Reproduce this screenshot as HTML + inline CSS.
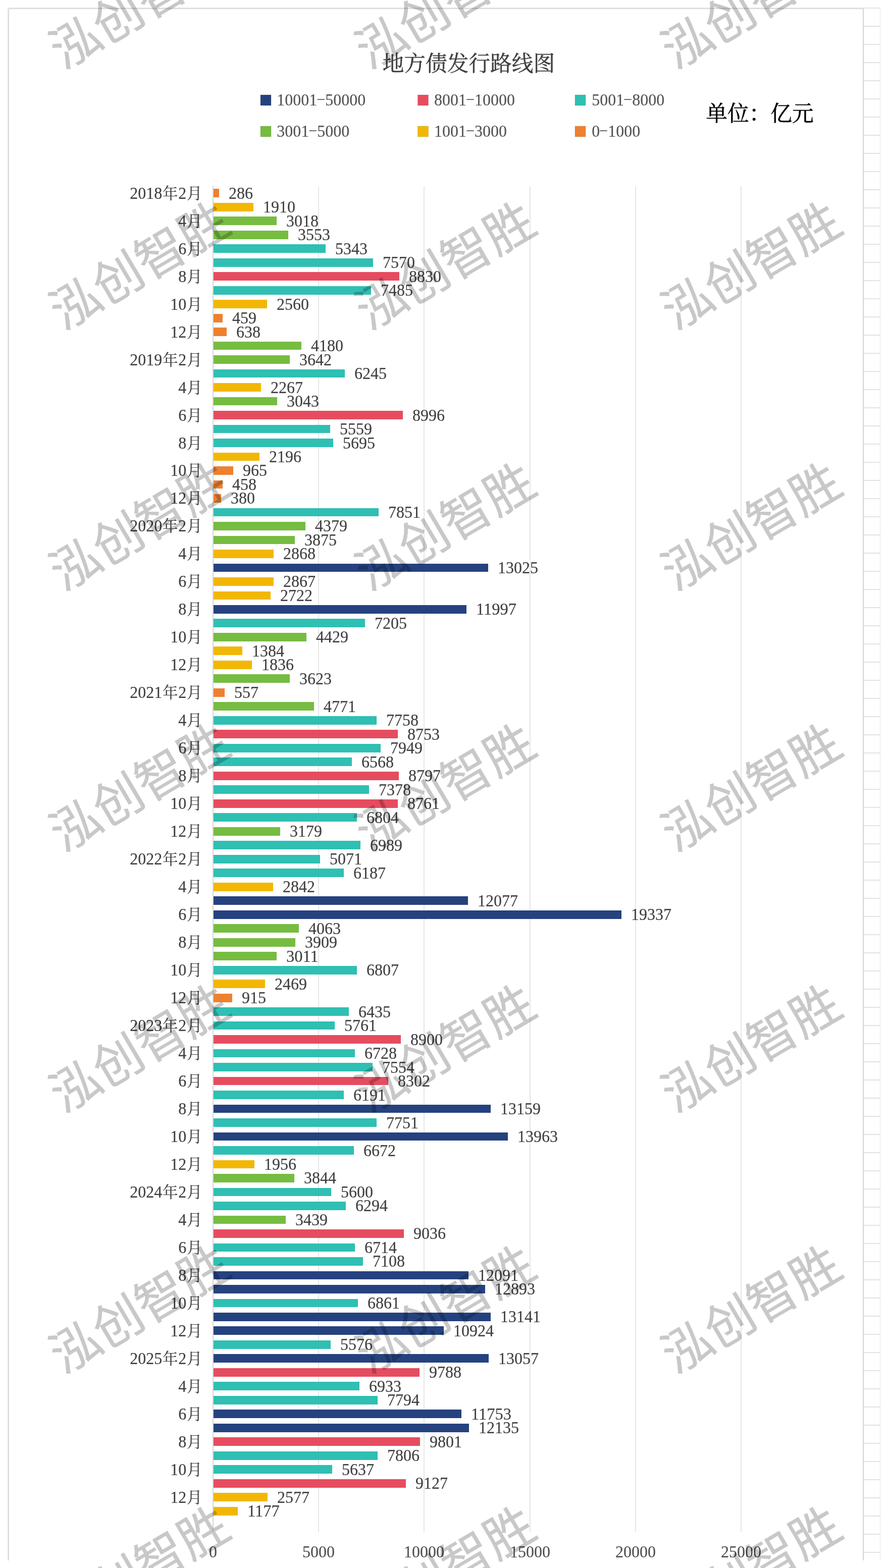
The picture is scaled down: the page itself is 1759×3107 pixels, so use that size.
<!DOCTYPE html>
<html lang="zh-CN">
<head>
<meta charset="utf-8">
<title>地方债发行路线图</title>
<style>
html,body{margin:0;padding:0;background:#fff;}
body{width:1759px;height:3107px;overflow:hidden;}
svg{display:block;font-family:"Liberation Serif","Noto Serif CJK SC",serif;}
.n{font-size:34px;}
.k{font-size:30.5px;}
.t{fill:#404040;stroke:#404040;stroke-width:0.2px;}
.c{fill:#404040;stroke:#404040;stroke-width:0.2px;}
.a{fill:#505050;stroke:#505050;stroke-width:0.2px;text-anchor:middle;}
.l{fill:#545454;stroke:#545454;stroke-width:0.2px;}
.h{font-size:42.7px;text-anchor:middle;}
.w{font-family:"Liberation Sans","Noto Sans CJK SC",sans-serif;font-size:97.7px;fill:#000;stroke:#000;stroke-width:0.7px;opacity:0.21;text-anchor:middle;}
</style>
</head>
<body>
<svg width="1759" height="3107" viewBox="0 0 1759 3107">
<rect x="0" y="0" width="1759" height="3107" fill="#ffffff"/>
<g fill="#e3e3e3">
<rect x="1711" y="51" width="32" height="2"/>
<rect x="1711" y="87" width="32" height="2"/>
<rect x="1711" y="123" width="32" height="2"/>
<rect x="1711" y="159" width="32" height="2"/>
<rect x="1711" y="195" width="32" height="2"/>
<rect x="1711" y="231" width="32" height="2"/>
<rect x="1711" y="267" width="32" height="2"/>
<rect x="1711" y="303" width="32" height="2"/>
<rect x="1711" y="339" width="32" height="2"/>
<rect x="1711" y="375" width="32" height="2"/>
<rect x="1711" y="411" width="32" height="2"/>
<rect x="1711" y="447" width="32" height="2"/>
<rect x="1711" y="483" width="32" height="2"/>
<rect x="1711" y="519" width="32" height="2"/>
<rect x="1711" y="555" width="32" height="2"/>
<rect x="1711" y="591" width="32" height="2"/>
<rect x="1711" y="627" width="32" height="2"/>
<rect x="1711" y="663" width="32" height="2"/>
<rect x="1711" y="699" width="32" height="2"/>
<rect x="1711" y="735" width="32" height="2"/>
<rect x="1711" y="771" width="32" height="2"/>
<rect x="1711" y="807" width="32" height="2"/>
<rect x="1711" y="843" width="32" height="2"/>
<rect x="1711" y="879" width="32" height="2"/>
<rect x="1711" y="915" width="32" height="2"/>
<rect x="1711" y="951" width="32" height="2"/>
<rect x="1711" y="987" width="32" height="2"/>
<rect x="1711" y="1023" width="32" height="2"/>
<rect x="1711" y="1059" width="32" height="2"/>
<rect x="1711" y="1095" width="32" height="2"/>
<rect x="1711" y="1131" width="32" height="2"/>
<rect x="1711" y="1167" width="32" height="2"/>
<rect x="1711" y="1203" width="32" height="2"/>
<rect x="1711" y="1239" width="32" height="2"/>
<rect x="1711" y="1275" width="32" height="2"/>
<rect x="1711" y="1311" width="32" height="2"/>
<rect x="1711" y="1347" width="32" height="2"/>
<rect x="1711" y="1383" width="32" height="2"/>
<rect x="1711" y="1419" width="32" height="2"/>
<rect x="1711" y="1455" width="32" height="2"/>
<rect x="1711" y="1491" width="32" height="2"/>
<rect x="1711" y="1527" width="32" height="2"/>
<rect x="1711" y="1563" width="32" height="2"/>
<rect x="1711" y="1599" width="32" height="2"/>
<rect x="1711" y="1635" width="32" height="2"/>
<rect x="1711" y="1671" width="32" height="2"/>
<rect x="1711" y="1707" width="32" height="2"/>
<rect x="1711" y="1743" width="32" height="2"/>
<rect x="1711" y="1779" width="32" height="2"/>
<rect x="1711" y="1815" width="32" height="2"/>
<rect x="1711" y="1851" width="32" height="2"/>
<rect x="1711" y="1887" width="32" height="2"/>
<rect x="1711" y="1923" width="32" height="2"/>
<rect x="1711" y="1959" width="32" height="2"/>
<rect x="1711" y="1995" width="32" height="2"/>
<rect x="1711" y="2031" width="32" height="2"/>
<rect x="1711" y="2067" width="32" height="2"/>
<rect x="1711" y="2103" width="32" height="2"/>
<rect x="1711" y="2139" width="32" height="2"/>
<rect x="1711" y="2175" width="32" height="2"/>
<rect x="1711" y="2211" width="32" height="2"/>
<rect x="1711" y="2247" width="32" height="2"/>
<rect x="1711" y="2283" width="32" height="2"/>
<rect x="1711" y="2319" width="32" height="2"/>
<rect x="1711" y="2355" width="32" height="2"/>
<rect x="1711" y="2391" width="32" height="2"/>
<rect x="1711" y="2427" width="32" height="2"/>
<rect x="1711" y="2463" width="32" height="2"/>
<rect x="1711" y="2499" width="32" height="2"/>
<rect x="1711" y="2535" width="32" height="2"/>
<rect x="1711" y="2571" width="32" height="2"/>
<rect x="1711" y="2607" width="32" height="2"/>
<rect x="1711" y="2643" width="32" height="2"/>
<rect x="1711" y="2679" width="32" height="2"/>
<rect x="1711" y="2715" width="32" height="2"/>
<rect x="1711" y="2751" width="32" height="2"/>
<rect x="1711" y="2787" width="32" height="2"/>
<rect x="1711" y="2823" width="32" height="2"/>
<rect x="1711" y="2859" width="32" height="2"/>
<rect x="1711" y="2895" width="32" height="2"/>
<rect x="1711" y="2931" width="32" height="2"/>
<rect x="1711" y="2967" width="32" height="2"/>
<rect x="1711" y="3003" width="32" height="2"/>
<rect x="1711" y="3039" width="32" height="2"/>
<rect x="1711" y="3075" width="32" height="2"/>
</g>
<rect x="1743" y="15" width="1" height="3077" fill="#e6e6e6"/>
<rect x="17" y="15" width="1727" height="2" fill="#e4e4e4"/>
<rect x="17" y="17" width="1692" height="1" fill="#d6d6d6"/>
<rect x="15" y="17" width="2" height="3075" fill="#e4e4e4"/>
<rect x="17" y="17" width="1" height="3075" fill="#d6d6d6"/>
<rect x="1709" y="17" width="2" height="3075" fill="#d4d4d4"/>
<g fill="#e6e6e6">
<rect x="630" y="369" width="2" height="2666"/>
<rect x="839" y="369" width="2" height="2666"/>
<rect x="1049" y="369" width="2" height="2666"/>
<rect x="1258" y="369" width="2" height="2666"/>
<rect x="1467" y="369" width="2" height="2666"/>
</g>
<rect x="421" y="369" width="2" height="2666" fill="#d6d6d6"/>
<text class="h" x="928.4" y="141" fill="#404040" stroke="#404040" stroke-width="0.5">地方债发行路线图</text>
<text class="h" x="1505" y="240" fill="#000000" stroke="#000000" stroke-width="0.5">单位：亿元</text>
<g class="n l">
<rect x="516" y="188" width="21" height="21" fill="#25427F"/>
<text y="209.0"><tspan x="548.3" textLength="80" lengthAdjust="spacingAndGlyphs">10001</tspan><tspan x="626.9" dy="-7" font-size="20" textLength="17.5" lengthAdjust="spacingAndGlyphs">-</tspan><tspan x="644.3" dy="7" textLength="80" lengthAdjust="spacingAndGlyphs">50000</tspan></text>
<rect x="827.5" y="188" width="21" height="21" fill="#E64C5F"/>
<text y="209.0"><tspan x="860.1" textLength="64" lengthAdjust="spacingAndGlyphs">8001</tspan><tspan x="922.7" dy="-7" font-size="20" textLength="17.5" lengthAdjust="spacingAndGlyphs">-</tspan><tspan x="940.1" dy="7" textLength="80" lengthAdjust="spacingAndGlyphs">10000</tspan></text>
<rect x="1139" y="188" width="21" height="21" fill="#2FBFB3"/>
<text y="209.0"><tspan x="1172.2" textLength="64" lengthAdjust="spacingAndGlyphs">5001</tspan><tspan x="1234.8" dy="-7" font-size="20" textLength="17.5" lengthAdjust="spacingAndGlyphs">-</tspan><tspan x="1252.2" dy="7" textLength="64" lengthAdjust="spacingAndGlyphs">8000</tspan></text>
<rect x="516" y="250" width="21" height="21" fill="#76BC41"/>
<text y="271.0"><tspan x="548.3" textLength="64" lengthAdjust="spacingAndGlyphs">3001</tspan><tspan x="610.9" dy="-7" font-size="20" textLength="17.5" lengthAdjust="spacingAndGlyphs">-</tspan><tspan x="628.3" dy="7" textLength="64" lengthAdjust="spacingAndGlyphs">5000</tspan></text>
<rect x="827.5" y="250" width="21" height="21" fill="#F2B705"/>
<text y="271.0"><tspan x="860.1" textLength="64" lengthAdjust="spacingAndGlyphs">1001</tspan><tspan x="922.7" dy="-7" font-size="20" textLength="17.5" lengthAdjust="spacingAndGlyphs">-</tspan><tspan x="940.1" dy="7" textLength="64" lengthAdjust="spacingAndGlyphs">3000</tspan></text>
<rect x="1139" y="250" width="21" height="21" fill="#EE8130"/>
<text y="271.0"><tspan x="1172.2" textLength="16" lengthAdjust="spacingAndGlyphs">0</tspan><tspan x="1186.8" dy="-7" font-size="20" textLength="17.5" lengthAdjust="spacingAndGlyphs">-</tspan><tspan x="1204.2" dy="7" textLength="64" lengthAdjust="spacingAndGlyphs">1000</tspan></text>
</g>
<g>
<rect x="423" y="374" width="11" height="17" fill="#EE8130"/>
<rect x="423" y="402" width="79" height="17" fill="#F2B705"/>
<rect x="423" y="429" width="125" height="17" fill="#76BC41"/>
<rect x="423" y="457" width="148" height="17" fill="#76BC41"/>
<rect x="423" y="484" width="222" height="17" fill="#2FBFB3"/>
<rect x="423" y="512" width="316" height="17" fill="#2FBFB3"/>
<rect x="423" y="539" width="368" height="17" fill="#E64C5F"/>
<rect x="423" y="567" width="312" height="17" fill="#2FBFB3"/>
<rect x="423" y="594" width="106" height="17" fill="#F2B705"/>
<rect x="423" y="622" width="18" height="17" fill="#EE8130"/>
<rect x="423" y="649" width="26" height="17" fill="#EE8130"/>
<rect x="423" y="677" width="174" height="16" fill="#76BC41"/>
<rect x="423" y="704" width="151" height="17" fill="#76BC41"/>
<rect x="423" y="732" width="260" height="16" fill="#2FBFB3"/>
<rect x="423" y="759" width="94" height="17" fill="#F2B705"/>
<rect x="423" y="787" width="126" height="16" fill="#76BC41"/>
<rect x="423" y="814" width="375" height="17" fill="#E64C5F"/>
<rect x="423" y="842" width="231" height="16" fill="#2FBFB3"/>
<rect x="423" y="869" width="237" height="17" fill="#2FBFB3"/>
<rect x="423" y="897" width="91" height="16" fill="#F2B705"/>
<rect x="423" y="924" width="39" height="17" fill="#EE8130"/>
<rect x="423" y="952" width="18" height="16" fill="#EE8130"/>
<rect x="423" y="979" width="15" height="17" fill="#EE8130"/>
<rect x="423" y="1007" width="327" height="16" fill="#2FBFB3"/>
<rect x="423" y="1034" width="182" height="17" fill="#76BC41"/>
<rect x="423" y="1062" width="161" height="16" fill="#76BC41"/>
<rect x="423" y="1089" width="119" height="17" fill="#F2B705"/>
<rect x="423" y="1117" width="544" height="16" fill="#25427F"/>
<rect x="423" y="1144" width="119" height="17" fill="#F2B705"/>
<rect x="423" y="1172" width="113" height="16" fill="#F2B705"/>
<rect x="423" y="1199" width="501" height="17" fill="#25427F"/>
<rect x="423" y="1226" width="300" height="17" fill="#2FBFB3"/>
<rect x="423" y="1254" width="184" height="17" fill="#76BC41"/>
<rect x="423" y="1281" width="57" height="17" fill="#F2B705"/>
<rect x="423" y="1309" width="76" height="17" fill="#F2B705"/>
<rect x="423" y="1336" width="151" height="17" fill="#76BC41"/>
<rect x="423" y="1364" width="22" height="17" fill="#EE8130"/>
<rect x="423" y="1391" width="199" height="17" fill="#76BC41"/>
<rect x="423" y="1419" width="323" height="17" fill="#2FBFB3"/>
<rect x="423" y="1446" width="365" height="17" fill="#E64C5F"/>
<rect x="423" y="1474" width="331" height="17" fill="#2FBFB3"/>
<rect x="423" y="1501" width="274" height="17" fill="#2FBFB3"/>
<rect x="423" y="1529" width="367" height="17" fill="#E64C5F"/>
<rect x="423" y="1556" width="308" height="17" fill="#2FBFB3"/>
<rect x="423" y="1584" width="365" height="17" fill="#E64C5F"/>
<rect x="423" y="1611" width="284" height="17" fill="#2FBFB3"/>
<rect x="423" y="1639" width="132" height="17" fill="#76BC41"/>
<rect x="423" y="1666" width="291" height="17" fill="#2FBFB3"/>
<rect x="423" y="1694" width="211" height="17" fill="#2FBFB3"/>
<rect x="423" y="1721" width="258" height="17" fill="#2FBFB3"/>
<rect x="423" y="1749" width="118" height="17" fill="#F2B705"/>
<rect x="423" y="1776" width="504" height="17" fill="#25427F"/>
<rect x="423" y="1804" width="808" height="17" fill="#25427F"/>
<rect x="423" y="1831" width="169" height="17" fill="#76BC41"/>
<rect x="423" y="1859" width="162" height="17" fill="#76BC41"/>
<rect x="423" y="1886" width="125" height="17" fill="#76BC41"/>
<rect x="423" y="1914" width="284" height="17" fill="#2FBFB3"/>
<rect x="423" y="1941" width="102" height="17" fill="#F2B705"/>
<rect x="423" y="1969" width="37" height="17" fill="#EE8130"/>
<rect x="423" y="1996" width="268" height="17" fill="#2FBFB3"/>
<rect x="423" y="2024" width="240" height="16" fill="#2FBFB3"/>
<rect x="423" y="2051" width="371" height="17" fill="#E64C5F"/>
<rect x="423" y="2079" width="280" height="16" fill="#2FBFB3"/>
<rect x="423" y="2106" width="315" height="17" fill="#2FBFB3"/>
<rect x="423" y="2134" width="346" height="16" fill="#E64C5F"/>
<rect x="423" y="2161" width="258" height="17" fill="#2FBFB3"/>
<rect x="423" y="2189" width="549" height="16" fill="#25427F"/>
<rect x="423" y="2216" width="323" height="17" fill="#2FBFB3"/>
<rect x="423" y="2244" width="583" height="16" fill="#25427F"/>
<rect x="423" y="2271" width="278" height="17" fill="#2FBFB3"/>
<rect x="423" y="2299" width="81" height="16" fill="#F2B705"/>
<rect x="423" y="2326" width="160" height="17" fill="#76BC41"/>
<rect x="423" y="2354" width="233" height="16" fill="#2FBFB3"/>
<rect x="423" y="2381" width="262" height="17" fill="#2FBFB3"/>
<rect x="423" y="2409" width="143" height="16" fill="#76BC41"/>
<rect x="423" y="2436" width="377" height="17" fill="#E64C5F"/>
<rect x="423" y="2464" width="280" height="16" fill="#2FBFB3"/>
<rect x="423" y="2491" width="296" height="17" fill="#2FBFB3"/>
<rect x="423" y="2519" width="505" height="16" fill="#25427F"/>
<rect x="423" y="2546" width="538" height="17" fill="#25427F"/>
<rect x="423" y="2574" width="286" height="16" fill="#2FBFB3"/>
<rect x="423" y="2601" width="549" height="17" fill="#25427F"/>
<rect x="423" y="2628" width="456" height="17" fill="#25427F"/>
<rect x="423" y="2656" width="232" height="17" fill="#2FBFB3"/>
<rect x="423" y="2683" width="545" height="17" fill="#25427F"/>
<rect x="423" y="2711" width="408" height="17" fill="#E64C5F"/>
<rect x="423" y="2738" width="289" height="17" fill="#2FBFB3"/>
<rect x="423" y="2766" width="325" height="17" fill="#2FBFB3"/>
<rect x="423" y="2793" width="491" height="17" fill="#25427F"/>
<rect x="423" y="2821" width="506" height="17" fill="#25427F"/>
<rect x="423" y="2848" width="409" height="17" fill="#E64C5F"/>
<rect x="423" y="2876" width="325" height="17" fill="#2FBFB3"/>
<rect x="423" y="2903" width="235" height="17" fill="#2FBFB3"/>
<rect x="423" y="2931" width="381" height="17" fill="#E64C5F"/>
<rect x="423" y="2958" width="107" height="17" fill="#F2B705"/>
<rect x="423" y="2986" width="48" height="17" fill="#F2B705"/>
</g>
<g class="n t">
<text x="452.9" y="394" textLength="48" lengthAdjust="spacingAndGlyphs">286</text>
<text x="520.9" y="421" textLength="64" lengthAdjust="spacingAndGlyphs">1910</text>
<text x="566.9" y="449" textLength="64" lengthAdjust="spacingAndGlyphs">3018</text>
<text x="589.9" y="476" textLength="64" lengthAdjust="spacingAndGlyphs">3553</text>
<text x="663.9" y="504" textLength="64" lengthAdjust="spacingAndGlyphs">5343</text>
<text x="757.9" y="531" textLength="64" lengthAdjust="spacingAndGlyphs">7570</text>
<text x="809.9" y="559" textLength="64" lengthAdjust="spacingAndGlyphs">8830</text>
<text x="753.9" y="586" textLength="64" lengthAdjust="spacingAndGlyphs">7485</text>
<text x="547.9" y="614" textLength="64" lengthAdjust="spacingAndGlyphs">2560</text>
<text x="459.9" y="641" textLength="48" lengthAdjust="spacingAndGlyphs">459</text>
<text x="467.9" y="669" textLength="48" lengthAdjust="spacingAndGlyphs">638</text>
<text x="615.9" y="696" textLength="64" lengthAdjust="spacingAndGlyphs">4180</text>
<text x="592.9" y="724" textLength="64" lengthAdjust="spacingAndGlyphs">3642</text>
<text x="701.9" y="751" textLength="64" lengthAdjust="spacingAndGlyphs">6245</text>
<text x="535.9" y="779" textLength="64" lengthAdjust="spacingAndGlyphs">2267</text>
<text x="567.9" y="806" textLength="64" lengthAdjust="spacingAndGlyphs">3043</text>
<text x="816.9" y="834" textLength="64" lengthAdjust="spacingAndGlyphs">8996</text>
<text x="672.9" y="861" textLength="64" lengthAdjust="spacingAndGlyphs">5559</text>
<text x="678.9" y="889" textLength="64" lengthAdjust="spacingAndGlyphs">5695</text>
<text x="532.9" y="916" textLength="64" lengthAdjust="spacingAndGlyphs">2196</text>
<text x="480.9" y="943" textLength="48" lengthAdjust="spacingAndGlyphs">965</text>
<text x="459.9" y="971" textLength="48" lengthAdjust="spacingAndGlyphs">458</text>
<text x="456.9" y="998" textLength="48" lengthAdjust="spacingAndGlyphs">380</text>
<text x="768.9" y="1026" textLength="64" lengthAdjust="spacingAndGlyphs">7851</text>
<text x="623.9" y="1053" textLength="64" lengthAdjust="spacingAndGlyphs">4379</text>
<text x="602.9" y="1081" textLength="64" lengthAdjust="spacingAndGlyphs">3875</text>
<text x="560.9" y="1108" textLength="64" lengthAdjust="spacingAndGlyphs">2868</text>
<text x="985.9" y="1136" textLength="80" lengthAdjust="spacingAndGlyphs">13025</text>
<text x="560.9" y="1163" textLength="64" lengthAdjust="spacingAndGlyphs">2867</text>
<text x="554.9" y="1191" textLength="64" lengthAdjust="spacingAndGlyphs">2722</text>
<text x="942.9" y="1218" textLength="80" lengthAdjust="spacingAndGlyphs">11997</text>
<text x="741.9" y="1246" textLength="64" lengthAdjust="spacingAndGlyphs">7205</text>
<text x="625.9" y="1273" textLength="64" lengthAdjust="spacingAndGlyphs">4429</text>
<text x="498.9" y="1301" textLength="64" lengthAdjust="spacingAndGlyphs">1384</text>
<text x="517.9" y="1328" textLength="64" lengthAdjust="spacingAndGlyphs">1836</text>
<text x="592.9" y="1356" textLength="64" lengthAdjust="spacingAndGlyphs">3623</text>
<text x="463.9" y="1383" textLength="48" lengthAdjust="spacingAndGlyphs">557</text>
<text x="640.9" y="1411" textLength="64" lengthAdjust="spacingAndGlyphs">4771</text>
<text x="764.9" y="1438" textLength="64" lengthAdjust="spacingAndGlyphs">7758</text>
<text x="806.9" y="1466" textLength="64" lengthAdjust="spacingAndGlyphs">8753</text>
<text x="772.9" y="1493" textLength="64" lengthAdjust="spacingAndGlyphs">7949</text>
<text x="715.9" y="1521" textLength="64" lengthAdjust="spacingAndGlyphs">6568</text>
<text x="808.9" y="1548" textLength="64" lengthAdjust="spacingAndGlyphs">8797</text>
<text x="749.9" y="1576" textLength="64" lengthAdjust="spacingAndGlyphs">7378</text>
<text x="806.9" y="1603" textLength="64" lengthAdjust="spacingAndGlyphs">8761</text>
<text x="725.9" y="1631" textLength="64" lengthAdjust="spacingAndGlyphs">6804</text>
<text x="573.9" y="1658" textLength="64" lengthAdjust="spacingAndGlyphs">3179</text>
<text x="732.9" y="1686" textLength="64" lengthAdjust="spacingAndGlyphs">6989</text>
<text x="652.9" y="1713" textLength="64" lengthAdjust="spacingAndGlyphs">5071</text>
<text x="699.9" y="1741" textLength="64" lengthAdjust="spacingAndGlyphs">6187</text>
<text x="559.9" y="1768" textLength="64" lengthAdjust="spacingAndGlyphs">2842</text>
<text x="945.9" y="1796" textLength="80" lengthAdjust="spacingAndGlyphs">12077</text>
<text x="1249.9" y="1823" textLength="80" lengthAdjust="spacingAndGlyphs">19337</text>
<text x="610.9" y="1851" textLength="64" lengthAdjust="spacingAndGlyphs">4063</text>
<text x="603.9" y="1878" textLength="64" lengthAdjust="spacingAndGlyphs">3909</text>
<text x="566.9" y="1906" textLength="64" lengthAdjust="spacingAndGlyphs">3011</text>
<text x="725.9" y="1933" textLength="64" lengthAdjust="spacingAndGlyphs">6807</text>
<text x="543.9" y="1961" textLength="64" lengthAdjust="spacingAndGlyphs">2469</text>
<text x="478.9" y="1988" textLength="48" lengthAdjust="spacingAndGlyphs">915</text>
<text x="709.9" y="2016" textLength="64" lengthAdjust="spacingAndGlyphs">6435</text>
<text x="681.9" y="2043" textLength="64" lengthAdjust="spacingAndGlyphs">5761</text>
<text x="812.9" y="2071" textLength="64" lengthAdjust="spacingAndGlyphs">8900</text>
<text x="721.9" y="2098" textLength="64" lengthAdjust="spacingAndGlyphs">6728</text>
<text x="756.9" y="2126" textLength="64" lengthAdjust="spacingAndGlyphs">7554</text>
<text x="787.9" y="2153" textLength="64" lengthAdjust="spacingAndGlyphs">8302</text>
<text x="699.9" y="2181" textLength="64" lengthAdjust="spacingAndGlyphs">6191</text>
<text x="990.9" y="2208" textLength="80" lengthAdjust="spacingAndGlyphs">13159</text>
<text x="764.9" y="2236" textLength="64" lengthAdjust="spacingAndGlyphs">7751</text>
<text x="1024.9" y="2263" textLength="80" lengthAdjust="spacingAndGlyphs">13963</text>
<text x="719.9" y="2291" textLength="64" lengthAdjust="spacingAndGlyphs">6672</text>
<text x="522.9" y="2318" textLength="64" lengthAdjust="spacingAndGlyphs">1956</text>
<text x="601.9" y="2345" textLength="64" lengthAdjust="spacingAndGlyphs">3844</text>
<text x="674.9" y="2373" textLength="64" lengthAdjust="spacingAndGlyphs">5600</text>
<text x="703.9" y="2400" textLength="64" lengthAdjust="spacingAndGlyphs">6294</text>
<text x="584.9" y="2428" textLength="64" lengthAdjust="spacingAndGlyphs">3439</text>
<text x="818.9" y="2455" textLength="64" lengthAdjust="spacingAndGlyphs">9036</text>
<text x="721.9" y="2483" textLength="64" lengthAdjust="spacingAndGlyphs">6714</text>
<text x="737.9" y="2510" textLength="64" lengthAdjust="spacingAndGlyphs">7108</text>
<text x="946.9" y="2538" textLength="80" lengthAdjust="spacingAndGlyphs">12091</text>
<text x="979.9" y="2565" textLength="80" lengthAdjust="spacingAndGlyphs">12893</text>
<text x="727.9" y="2593" textLength="64" lengthAdjust="spacingAndGlyphs">6861</text>
<text x="990.9" y="2620" textLength="80" lengthAdjust="spacingAndGlyphs">13141</text>
<text x="897.9" y="2648" textLength="80" lengthAdjust="spacingAndGlyphs">10924</text>
<text x="673.9" y="2675" textLength="64" lengthAdjust="spacingAndGlyphs">5576</text>
<text x="986.9" y="2703" textLength="80" lengthAdjust="spacingAndGlyphs">13057</text>
<text x="849.9" y="2730" textLength="64" lengthAdjust="spacingAndGlyphs">9788</text>
<text x="730.9" y="2758" textLength="64" lengthAdjust="spacingAndGlyphs">6933</text>
<text x="766.9" y="2785" textLength="64" lengthAdjust="spacingAndGlyphs">7794</text>
<text x="932.9" y="2813" textLength="80" lengthAdjust="spacingAndGlyphs">11753</text>
<text x="947.9" y="2840" textLength="80" lengthAdjust="spacingAndGlyphs">12135</text>
<text x="850.9" y="2868" textLength="64" lengthAdjust="spacingAndGlyphs">9801</text>
<text x="766.9" y="2895" textLength="64" lengthAdjust="spacingAndGlyphs">7806</text>
<text x="676.9" y="2923" textLength="64" lengthAdjust="spacingAndGlyphs">5637</text>
<text x="822.9" y="2950" textLength="64" lengthAdjust="spacingAndGlyphs">9127</text>
<text x="548.9" y="2978" textLength="64" lengthAdjust="spacingAndGlyphs">2577</text>
<text x="489.9" y="3005" textLength="64" lengthAdjust="spacingAndGlyphs">1177</text>
</g>
<g class="n c">
<text y="394"><tspan x="257.2" textLength="64" lengthAdjust="spacingAndGlyphs">2018</tspan><tspan class="k" x="321.9">年</tspan><tspan x="353.2" textLength="16" lengthAdjust="spacingAndGlyphs">2</tspan><tspan class="k" x="369.9">月</tspan></text>
<text y="449"><tspan x="353.2" textLength="16" lengthAdjust="spacingAndGlyphs">4</tspan><tspan class="k" x="369.9">月</tspan></text>
<text y="504"><tspan x="353.2" textLength="16" lengthAdjust="spacingAndGlyphs">6</tspan><tspan class="k" x="369.9">月</tspan></text>
<text y="559"><tspan x="353.2" textLength="16" lengthAdjust="spacingAndGlyphs">8</tspan><tspan class="k" x="369.9">月</tspan></text>
<text y="614"><tspan x="337.2" textLength="32" lengthAdjust="spacingAndGlyphs">10</tspan><tspan class="k" x="369.9">月</tspan></text>
<text y="669"><tspan x="337.2" textLength="32" lengthAdjust="spacingAndGlyphs">12</tspan><tspan class="k" x="369.9">月</tspan></text>
<text y="724"><tspan x="257.2" textLength="64" lengthAdjust="spacingAndGlyphs">2019</tspan><tspan class="k" x="321.9">年</tspan><tspan x="353.2" textLength="16" lengthAdjust="spacingAndGlyphs">2</tspan><tspan class="k" x="369.9">月</tspan></text>
<text y="779"><tspan x="353.2" textLength="16" lengthAdjust="spacingAndGlyphs">4</tspan><tspan class="k" x="369.9">月</tspan></text>
<text y="834"><tspan x="353.2" textLength="16" lengthAdjust="spacingAndGlyphs">6</tspan><tspan class="k" x="369.9">月</tspan></text>
<text y="889"><tspan x="353.2" textLength="16" lengthAdjust="spacingAndGlyphs">8</tspan><tspan class="k" x="369.9">月</tspan></text>
<text y="943"><tspan x="337.2" textLength="32" lengthAdjust="spacingAndGlyphs">10</tspan><tspan class="k" x="369.9">月</tspan></text>
<text y="998"><tspan x="337.2" textLength="32" lengthAdjust="spacingAndGlyphs">12</tspan><tspan class="k" x="369.9">月</tspan></text>
<text y="1053"><tspan x="257.2" textLength="64" lengthAdjust="spacingAndGlyphs">2020</tspan><tspan class="k" x="321.9">年</tspan><tspan x="353.2" textLength="16" lengthAdjust="spacingAndGlyphs">2</tspan><tspan class="k" x="369.9">月</tspan></text>
<text y="1108"><tspan x="353.2" textLength="16" lengthAdjust="spacingAndGlyphs">4</tspan><tspan class="k" x="369.9">月</tspan></text>
<text y="1163"><tspan x="353.2" textLength="16" lengthAdjust="spacingAndGlyphs">6</tspan><tspan class="k" x="369.9">月</tspan></text>
<text y="1218"><tspan x="353.2" textLength="16" lengthAdjust="spacingAndGlyphs">8</tspan><tspan class="k" x="369.9">月</tspan></text>
<text y="1273"><tspan x="337.2" textLength="32" lengthAdjust="spacingAndGlyphs">10</tspan><tspan class="k" x="369.9">月</tspan></text>
<text y="1328"><tspan x="337.2" textLength="32" lengthAdjust="spacingAndGlyphs">12</tspan><tspan class="k" x="369.9">月</tspan></text>
<text y="1383"><tspan x="257.2" textLength="64" lengthAdjust="spacingAndGlyphs">2021</tspan><tspan class="k" x="321.9">年</tspan><tspan x="353.2" textLength="16" lengthAdjust="spacingAndGlyphs">2</tspan><tspan class="k" x="369.9">月</tspan></text>
<text y="1438"><tspan x="353.2" textLength="16" lengthAdjust="spacingAndGlyphs">4</tspan><tspan class="k" x="369.9">月</tspan></text>
<text y="1493"><tspan x="353.2" textLength="16" lengthAdjust="spacingAndGlyphs">6</tspan><tspan class="k" x="369.9">月</tspan></text>
<text y="1548"><tspan x="353.2" textLength="16" lengthAdjust="spacingAndGlyphs">8</tspan><tspan class="k" x="369.9">月</tspan></text>
<text y="1603"><tspan x="337.2" textLength="32" lengthAdjust="spacingAndGlyphs">10</tspan><tspan class="k" x="369.9">月</tspan></text>
<text y="1658"><tspan x="337.2" textLength="32" lengthAdjust="spacingAndGlyphs">12</tspan><tspan class="k" x="369.9">月</tspan></text>
<text y="1713"><tspan x="257.2" textLength="64" lengthAdjust="spacingAndGlyphs">2022</tspan><tspan class="k" x="321.9">年</tspan><tspan x="353.2" textLength="16" lengthAdjust="spacingAndGlyphs">2</tspan><tspan class="k" x="369.9">月</tspan></text>
<text y="1768"><tspan x="353.2" textLength="16" lengthAdjust="spacingAndGlyphs">4</tspan><tspan class="k" x="369.9">月</tspan></text>
<text y="1823"><tspan x="353.2" textLength="16" lengthAdjust="spacingAndGlyphs">6</tspan><tspan class="k" x="369.9">月</tspan></text>
<text y="1878"><tspan x="353.2" textLength="16" lengthAdjust="spacingAndGlyphs">8</tspan><tspan class="k" x="369.9">月</tspan></text>
<text y="1933"><tspan x="337.2" textLength="32" lengthAdjust="spacingAndGlyphs">10</tspan><tspan class="k" x="369.9">月</tspan></text>
<text y="1988"><tspan x="337.2" textLength="32" lengthAdjust="spacingAndGlyphs">12</tspan><tspan class="k" x="369.9">月</tspan></text>
<text y="2043"><tspan x="257.2" textLength="64" lengthAdjust="spacingAndGlyphs">2023</tspan><tspan class="k" x="321.9">年</tspan><tspan x="353.2" textLength="16" lengthAdjust="spacingAndGlyphs">2</tspan><tspan class="k" x="369.9">月</tspan></text>
<text y="2098"><tspan x="353.2" textLength="16" lengthAdjust="spacingAndGlyphs">4</tspan><tspan class="k" x="369.9">月</tspan></text>
<text y="2153"><tspan x="353.2" textLength="16" lengthAdjust="spacingAndGlyphs">6</tspan><tspan class="k" x="369.9">月</tspan></text>
<text y="2208"><tspan x="353.2" textLength="16" lengthAdjust="spacingAndGlyphs">8</tspan><tspan class="k" x="369.9">月</tspan></text>
<text y="2263"><tspan x="337.2" textLength="32" lengthAdjust="spacingAndGlyphs">10</tspan><tspan class="k" x="369.9">月</tspan></text>
<text y="2318"><tspan x="337.2" textLength="32" lengthAdjust="spacingAndGlyphs">12</tspan><tspan class="k" x="369.9">月</tspan></text>
<text y="2373"><tspan x="257.2" textLength="64" lengthAdjust="spacingAndGlyphs">2024</tspan><tspan class="k" x="321.9">年</tspan><tspan x="353.2" textLength="16" lengthAdjust="spacingAndGlyphs">2</tspan><tspan class="k" x="369.9">月</tspan></text>
<text y="2428"><tspan x="353.2" textLength="16" lengthAdjust="spacingAndGlyphs">4</tspan><tspan class="k" x="369.9">月</tspan></text>
<text y="2483"><tspan x="353.2" textLength="16" lengthAdjust="spacingAndGlyphs">6</tspan><tspan class="k" x="369.9">月</tspan></text>
<text y="2538"><tspan x="353.2" textLength="16" lengthAdjust="spacingAndGlyphs">8</tspan><tspan class="k" x="369.9">月</tspan></text>
<text y="2593"><tspan x="337.2" textLength="32" lengthAdjust="spacingAndGlyphs">10</tspan><tspan class="k" x="369.9">月</tspan></text>
<text y="2648"><tspan x="337.2" textLength="32" lengthAdjust="spacingAndGlyphs">12</tspan><tspan class="k" x="369.9">月</tspan></text>
<text y="2703"><tspan x="257.2" textLength="64" lengthAdjust="spacingAndGlyphs">2025</tspan><tspan class="k" x="321.9">年</tspan><tspan x="353.2" textLength="16" lengthAdjust="spacingAndGlyphs">2</tspan><tspan class="k" x="369.9">月</tspan></text>
<text y="2758"><tspan x="353.2" textLength="16" lengthAdjust="spacingAndGlyphs">4</tspan><tspan class="k" x="369.9">月</tspan></text>
<text y="2813"><tspan x="353.2" textLength="16" lengthAdjust="spacingAndGlyphs">6</tspan><tspan class="k" x="369.9">月</tspan></text>
<text y="2868"><tspan x="353.2" textLength="16" lengthAdjust="spacingAndGlyphs">8</tspan><tspan class="k" x="369.9">月</tspan></text>
<text y="2923"><tspan x="337.2" textLength="32" lengthAdjust="spacingAndGlyphs">10</tspan><tspan class="k" x="369.9">月</tspan></text>
<text y="2978"><tspan x="337.2" textLength="32" lengthAdjust="spacingAndGlyphs">12</tspan><tspan class="k" x="369.9">月</tspan></text>
</g>
<g class="n a">
<text x="422.0" y="3086" textLength="16" lengthAdjust="spacingAndGlyphs">0</text>
<text x="631.0" y="3086" textLength="64" lengthAdjust="spacingAndGlyphs">5000</text>
<text x="840.0" y="3086" textLength="80" lengthAdjust="spacingAndGlyphs">10000</text>
<text x="1050.0" y="3086" textLength="80" lengthAdjust="spacingAndGlyphs">15000</text>
<text x="1259.0" y="3086" textLength="80" lengthAdjust="spacingAndGlyphs">20000</text>
<text x="1468.0" y="3086" textLength="80" lengthAdjust="spacingAndGlyphs">25000</text>
</g>
<g>
<text class="w" transform="translate(275.9 9.3) rotate(-30.5)" x="0" y="35.2">泓创智胜</text>
<text class="w" transform="translate(881.9 9.3) rotate(-30.5)" x="0" y="35.2">泓创智胜</text>
<text class="w" transform="translate(1487.9 9.3) rotate(-30.5)" x="0" y="35.2">泓创智胜</text>
<text class="w" transform="translate(275.9 526.3) rotate(-30.5)" x="0" y="35.2">泓创智胜</text>
<text class="w" transform="translate(881.9 526.3) rotate(-30.5)" x="0" y="35.2">泓创智胜</text>
<text class="w" transform="translate(1487.9 526.3) rotate(-30.5)" x="0" y="35.2">泓创智胜</text>
<text class="w" transform="translate(275.9 1043.3) rotate(-30.5)" x="0" y="35.2">泓创智胜</text>
<text class="w" transform="translate(881.9 1043.3) rotate(-30.5)" x="0" y="35.2">泓创智胜</text>
<text class="w" transform="translate(1487.9 1043.3) rotate(-30.5)" x="0" y="35.2">泓创智胜</text>
<text class="w" transform="translate(275.9 1560.3) rotate(-30.5)" x="0" y="35.2">泓创智胜</text>
<text class="w" transform="translate(881.9 1560.3) rotate(-30.5)" x="0" y="35.2">泓创智胜</text>
<text class="w" transform="translate(1487.9 1560.3) rotate(-30.5)" x="0" y="35.2">泓创智胜</text>
<text class="w" transform="translate(275.9 2077.3) rotate(-30.5)" x="0" y="35.2">泓创智胜</text>
<text class="w" transform="translate(881.9 2077.3) rotate(-30.5)" x="0" y="35.2">泓创智胜</text>
<text class="w" transform="translate(1487.9 2077.3) rotate(-30.5)" x="0" y="35.2">泓创智胜</text>
<text class="w" transform="translate(275.9 2594.3) rotate(-30.5)" x="0" y="35.2">泓创智胜</text>
<text class="w" transform="translate(881.9 2594.3) rotate(-30.5)" x="0" y="35.2">泓创智胜</text>
<text class="w" transform="translate(1487.9 2594.3) rotate(-30.5)" x="0" y="35.2">泓创智胜</text>
<text class="w" transform="translate(275.9 3111.3) rotate(-30.5)" x="0" y="35.2">泓创智胜</text>
<text class="w" transform="translate(881.9 3111.3) rotate(-30.5)" x="0" y="35.2">泓创智胜</text>
<text class="w" transform="translate(1487.9 3111.3) rotate(-30.5)" x="0" y="35.2">泓创智胜</text>
</g>
</svg>
</body>
</html>
